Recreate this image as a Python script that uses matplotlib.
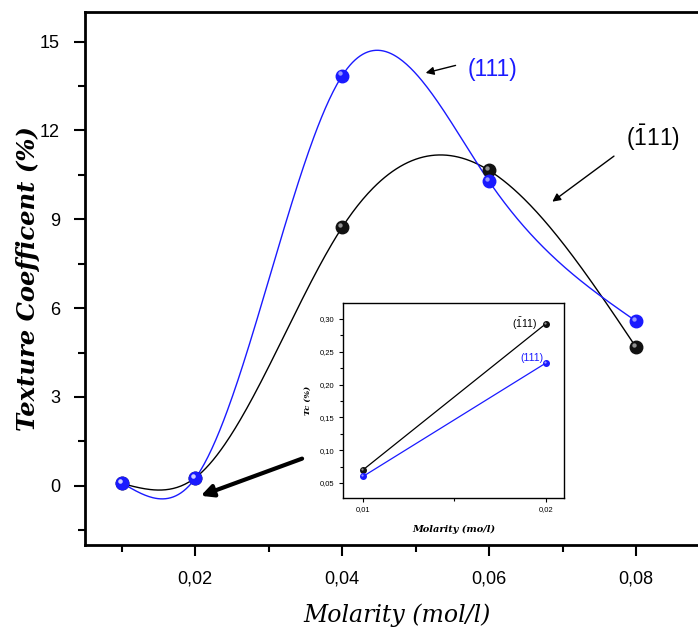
import numpy as np
import matplotlib
matplotlib.use("Agg")
import matplotlib.pyplot as plt
from matplotlib.transforms import offset_copy
from matplotlib.ticker import MultipleLocator, FuncFormatter

plt.rcParams['font.family'] = ['Liberation Sans', 'DejaVu Sans']
plt.rcParams['mathtext.fontset'] = 'custom'
plt.rcParams['mathtext.rm'] = 'Liberation Sans'

# ---- data ----
molarity = [0.01, 0.02, 0.04, 0.06, 0.08]
tc_111 = [0.10, 0.25, 13.85, 10.28, 5.56]
tc_m111 = [0.08, 0.27, 8.73, 10.65, 4.68]

inset_molarity = [0.01, 0.02]
inset_111 = [0.060, 0.233]
inset_m111 = [0.070, 0.293]

x_ticks = [0.02, 0.04, 0.06, 0.08]
y_ticks = [0, 3, 6, 9, 12, 15]

BLUE = '#1a1aff'
BLACK = '#000000'


def natural_spline(x, y, n=400):
    x = np.asarray(x, float)
    y = np.asarray(y, float)
    m = len(x)
    h = np.diff(x)
    A = np.zeros((m, m))
    b = np.zeros(m)
    A[0, 0] = 1
    A[-1, -1] = 1
    for i in range(1, m - 1):
        A[i, i - 1] = h[i - 1]
        A[i, i] = 2 * (h[i - 1] + h[i])
        A[i, i + 1] = h[i]
        b[i] = 3 * ((y[i + 1] - y[i]) / h[i] - (y[i] - y[i - 1]) / h[i - 1])
    c = np.linalg.solve(A, b)
    xs = np.linspace(x[0], x[-1], n)
    ys = np.empty_like(xs)
    for k, xv in enumerate(xs):
        i = min(np.searchsorted(x, xv, side='right') - 1, m - 2)
        dx = xv - x[i]
        bi = (y[i + 1] - y[i]) / h[i] - h[i] * (2 * c[i] + c[i + 1]) / 3
        di = (c[i + 1] - c[i]) / (3 * h[i])
        ys[k] = y[i] + bi * dx + c[i] * dx ** 2 + di * dx ** 3
    return xs, ys


fig = plt.figure(figsize=(6.98, 6.30), dpi=100)
ax = fig.add_axes([0.1218, 0.1349, 0.8947, 0.846])


def sphere(a, x, y, color, ms, hl):
    a.plot(x, y, 'o', color=color, markeredgecolor=color, ms=ms, zorder=5)
    tr = offset_copy(a.transData, fig=fig, x=-ms * 0.18, y=ms * 0.18, units='points')
    a.plot(x, y, 'o', color='white', alpha=0.55, ms=ms * hl, mew=0,
           transform=tr, zorder=6)


xs, ys = natural_spline(molarity, tc_m111)
ax.plot(xs, ys, color=BLACK, lw=1.0)
xs, ys = natural_spline(molarity, tc_111)
ax.plot(xs, ys, color=BLUE, lw=1.0)
sphere(ax, molarity, tc_m111, '#111111', 9, 0.35)
sphere(ax, molarity, tc_111, BLUE, 9, 0.35)

ax.set_xlim(0.005, 0.09)
ax.set_ylim(-2, 16)
ax.set_xticks(x_ticks)
ax.xaxis.set_minor_locator(MultipleLocator(0.01))
ax.set_yticks(y_ticks)
ax.yaxis.set_minor_locator(MultipleLocator(1.5))
comma = FuncFormatter(lambda v, p: f"{v:.2f}".replace('.', ','))
ax.xaxis.set_major_formatter(comma)
ax.tick_params(which='major', direction='out', length=8, width=1.5, labelsize=13, pad=10)
ax.tick_params(which='minor', direction='out', length=5, width=1.5)
for s in ax.spines.values():
    s.set_linewidth(2)

ax.set_xlabel('Molarity (mol/l)', family='DejaVu Serif', style='italic',
              fontsize=17, labelpad=12)
ax.set_ylabel('Texture Coefficent (%)', family='DejaVu Serif', style='italic',
              fontweight='bold', fontsize=17.5, labelpad=0)

# annotations
ax.annotate('', xy=(0.0510, 13.92), xytext=(0.0558, 14.22),
            arrowprops=dict(arrowstyle='-|>', color='black', lw=1, mutation_scale=12))
ax.text(0.0571, 14.05, '(111)', color=BLUE, fontsize=16.5, va='center', ha='left')
ax.annotate('', xy=(0.0683, 9.54), xytext=(0.0773, 11.19),
            arrowprops=dict(arrowstyle='-|>', color='black', lw=1, mutation_scale=12))
ax.text(0.0787, 11.76, r'$\mathrm{(\bar{1}11)}$', color='black', fontsize=16.5,
        va='center', ha='left')
ax.annotate('', xy=(0.0204, -0.37), xytext=(0.0349, 0.95),
            arrowprops=dict(arrowstyle='-|>', color='black', lw=3, mutation_scale=18))

# ---- inset ----
ins = fig.add_axes([0.4914, 0.2095, 0.3166, 0.3095])
ins.plot(inset_molarity, inset_m111, color=BLACK, lw=0.9)
ins.plot(inset_molarity, inset_111, color=BLUE, lw=0.9)
sphere(ins, inset_molarity, inset_m111, '#111111', 4, 0.4)
sphere(ins, inset_molarity, inset_111, BLUE, 4, 0.4)
ins.set_xlim(0.008907, 0.020984)
ins.set_ylim(0.02713, 0.3244)
ins.set_xticks([0.01, 0.02])
ins.xaxis.set_minor_locator(MultipleLocator(0.005))
ins.set_yticks([0.05, 0.10, 0.15, 0.20, 0.25, 0.30])
ins.yaxis.set_minor_locator(MultipleLocator(0.025))
ins.xaxis.set_major_formatter(comma)
ins.yaxis.set_major_formatter(comma)
ins.tick_params(which='major', direction='out', length=3, width=0.8, labelsize=5.5, pad=3)
ins.tick_params(which='minor', direction='out', length=2, width=0.8)
for s in ins.spines.values():
    s.set_linewidth(1.0)
ins.set_xlabel('Molarity (mo/l)', family='DejaVu Serif', style='italic',
               fontweight='bold', fontsize=7, labelpad=8)
ins.set_ylabel('Tc (%)', family='DejaVu Serif', style='italic',
               fontweight='bold', fontsize=6, labelpad=6)
ins.text(0.01955, 0.293, r'$\mathrm{(\bar{1}11)}$', fontsize=7.5, ha='right', va='center')
ins.text(0.01985, 0.240, '(111)', color=BLUE, fontsize=7.5, ha='right', va='center')

fig.savefig('out.png', dpi=100)
